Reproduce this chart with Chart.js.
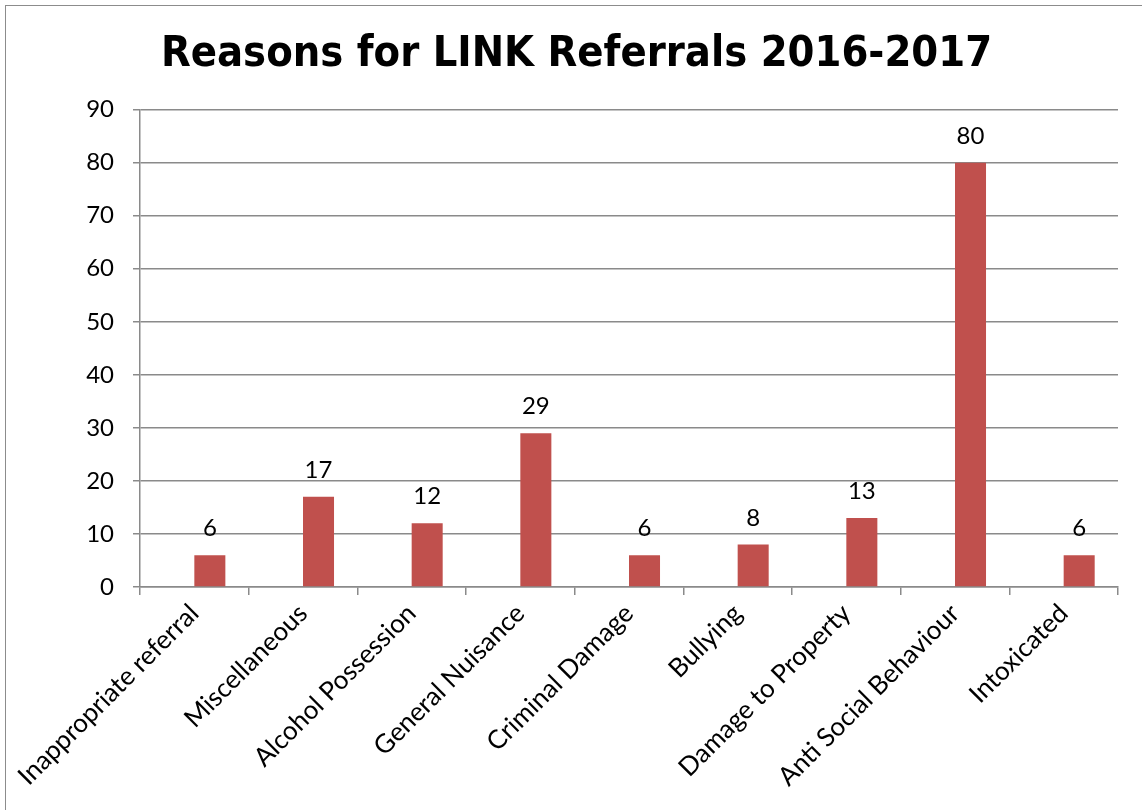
<!DOCTYPE html>
<html>
<head>
<meta charset="utf-8">
<title>Reasons for LINK Referrals 2016-2017</title>
<script src="https://cdn.jsdelivr.net/npm/chart.js@4.4.1/dist/chart.umd.min.js"></script>
<style>
  html, body { margin: 0; padding: 0; background: #ffffff; overflow: hidden; }
  #wrap { position: relative; width: 1142px; height: 810px; }
</style>
</head>
<body>
<div id="wrap"><canvas id="referralChart" width="1142" height="810"></canvas></div>
<script>
// Referral reasons and counts for the year
const reasons = [
  "Inappropriate referral",
  "Miscellaneous",
  "Alcohol Possession",
  "General Nuisance",
  "Criminal Damage",
  "Bullying",
  "Damage to Property",
  "Anti Social Behaviour",
  "Intoxicated",
];
const referralCounts = [6, 17, 12, 29, 6, 8, 13, 80, 6];
// first series in the workbook is blank, but it still takes its slot beside each bar
const blankSeries = [null, null, null, null, null, null, null, null, null];
const yTicks = [0, 10, 20, 30, 40, 50, 60, 70, 80, 90];

const labelFont = "Lato, 'Liberation Sans', sans-serif";
const axisGrey = "#8a8a8a";

// Outer frame around the whole chart
const framePlugin = {
  id: "frame",
  beforeDraw(chart) {
    const ctx = chart.ctx;
    ctx.save();
    ctx.fillStyle = "#ffffff";
    ctx.fillRect(0, 0, chart.width, chart.height);
    ctx.strokeStyle = "#8c8c8c";
    ctx.lineWidth = 1;
    ctx.strokeRect(5.5, 5.5, chart.width + 50, chart.height + 50);
    ctx.restore();
  },
};

// Count written above each bar of the referrals series
const valueLabels = {
  id: "valueLabels",
  afterDatasetsDraw(chart) {
    const ctx = chart.ctx;
    const meta = chart.getDatasetMeta(1);
    ctx.save();
    ctx.fillStyle = "#000000";
    ctx.font = "24px " + labelFont;
    ctx.textAlign = "center";
    ctx.textBaseline = "alphabetic";
    meta.data.forEach((bar, i) => {
      ctx.fillText(String(referralCounts[i]), bar.x, bar.y - 19);
    });
    ctx.restore();
  },
};

const ctx = document.getElementById("referralChart");
new Chart(ctx, {
  type: "bar",
  data: {
    labels: reasons,
    datasets: [
      {
        label: "Series 1",
        data: blankSeries,
        backgroundColor: "#4F81BD",
        borderWidth: 0,
        barPercentage: 1,
        categoryPercentage: 0.571,
      },
      {
        label: "Referrals",
        data: referralCounts,
        backgroundColor: "#C0504D",
        borderWidth: 0,
        barPercentage: 1,
        categoryPercentage: 0.571,
      },
    ],
  },
  options: {
    responsive: false,
    animation: false,
    devicePixelRatio: 1,
    layout: {
      padding: { left: 35, right: 24, top: 0, bottom: 0 },
    },
    plugins: {
      legend: { display: false },
      tooltip: { enabled: false },
      title: {
        display: true,
        text: "Reasons for LINK Referrals 2016-2017",
        color: "#000000",
        font: {
          family: "'DejaVu Sans Condensed', 'DejaVu Sans', sans-serif",
          size: 43,
          weight: "bold",
          lineHeight: 1.2,
        },
        padding: { top: 29, bottom: 29 },
      },
    },
    scales: {
      x: {
        offset: true,
        grid: {
          offset: true,
          drawOnChartArea: false,
          drawTicks: true,
          tickLength: 8,
          color: axisGrey,
          lineWidth: 1.5,
        },
        border: { color: axisGrey, width: 1.5 },
        ticks: {
          autoSkip: false,
          minRotation: 45,
          maxRotation: 45,
          padding: 3,
          color: "#000000",
          font: { family: labelFont, size: 26 },
        },
        afterFit(scale) {
          scale.height = 223;
        },
      },
      y: {
        min: 0,
        max: 90,
        afterBuildTicks(scale) {
          scale.ticks = yTicks.map((v) => ({ value: v }));
        },
        grid: {
          color: axisGrey,
          lineWidth: 1.5,
          tickLength: 7,
        },
        border: { color: axisGrey, width: 1.5 },
        ticks: {
          padding: 19,
          color: "#000000",
          font: { family: labelFont, size: 24 },
        },
        afterFit(scale) {
          scale.width = 105;
        },
      },
    },
  },
  plugins: [framePlugin, valueLabels],
});
</script>
</body>
</html>
